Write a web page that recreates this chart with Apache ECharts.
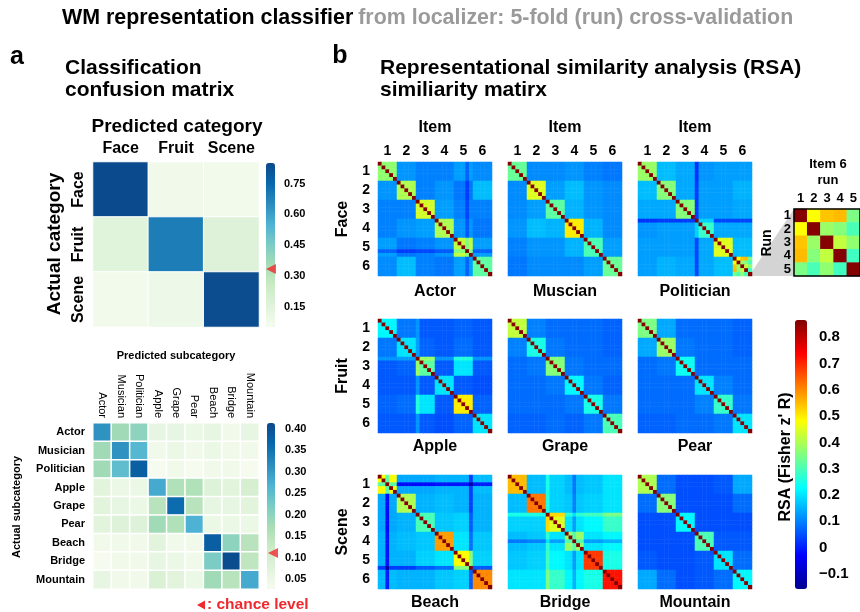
<!DOCTYPE html>
<html>
<head>
<meta charset="utf-8">
<script src="https://cdn.jsdelivr.net/npm/echarts@6/dist/echarts.min.js"></script>
<style>
  html, body { margin: 0; padding: 0; background: #fff; }
  #chart { width: 860px; height: 612px; }
</style>
</head>
<body>
<div id="chart"></div>
<script>
// ---- panel a: classification confusion matrices ----
const categories = ['Face', 'Fruit', 'Scene'];
const subcategories = ['Actor', 'Musician', 'Politician', 'Apple', 'Grape', 'Pear', 'Beach', 'Bridge', 'Mountain'];

// rows = actual, columns = predicted
const categoryConfusion = [
  [0.85, 0.08, 0.07],
  [0.15, 0.69, 0.16],
  [0.07, 0.09, 0.84]
];
const subcategoryConfusion = [
  [0.31, 0.18, 0.20, 0.06, 0.06, 0.05, 0.06, 0.04, 0.06],
  [0.18, 0.31, 0.26, 0.04, 0.05, 0.04, 0.05, 0.04, 0.04],
  [0.18, 0.25, 0.38, 0.03, 0.04, 0.03, 0.04, 0.04, 0.03],
  [0.07, 0.05, 0.05, 0.28, 0.16, 0.16, 0.08, 0.07, 0.10],
  [0.07, 0.06, 0.05, 0.15, 0.36, 0.15, 0.06, 0.06, 0.07],
  [0.07, 0.08, 0.08, 0.18, 0.16, 0.27, 0.05, 0.05, 0.05],
  [0.04, 0.04, 0.04, 0.07, 0.04, 0.04, 0.38, 0.20, 0.15],
  [0.03, 0.04, 0.04, 0.06, 0.05, 0.04, 0.22, 0.41, 0.14],
  [0.06, 0.04, 0.04, 0.09, 0.07, 0.05, 0.18, 0.15, 0.28]
];
const chanceCategory = 1 / 3;
const chanceSubcategory = 1 / 9;
const categoryTicks = [0.15, 0.30, 0.45, 0.60, 0.75];
const subcategoryTicks = [0.05, 0.10, 0.15, 0.20, 0.25, 0.30, 0.35, 0.40];

// ---- panel b: RSA similarity matrices (6 items x 5 runs) ----
const items = ['1', '2', '3', '4', '5', '6'];
const runs = ['1', '2', '3', '4', '5'];
const panelNames = ['Actor', 'Muscian', 'Politician', 'Apple', 'Grape', 'Pear', 'Beach', 'Bridge', 'Mountain'];
const rsaTicks = [-0.1, 0, 0.1, 0.2, 0.3, 0.4, 0.5, 0.6, 0.7, 0.8];
const rsaDiagonal = 0.86;   // same item, same run

// item-by-item mean similarity (Fisher z) read per block
const actorBlocks = [
  [0.37, 0.12, 0.10, 0.10, 0.13, 0.11],
  [0.12, 0.40, 0.10, 0.12, 0.09, 0.16],
  [0.10, 0.10, 0.44, 0.13, 0.10, 0.10],
  [0.10, 0.12, 0.13, 0.40, 0.12, 0.09],
  [0.13, 0.09, 0.10, 0.12, 0.42, 0.13],
  [0.11, 0.16, 0.10, 0.09, 0.13, 0.32]
];
const muscianBlocks = [
  [0.33, 0.11, 0.11, 0.12, 0.10, 0.09],
  [0.11, 0.45, 0.13, 0.16, 0.12, 0.11],
  [0.11, 0.13, 0.32, 0.15, 0.12, 0.11],
  [0.12, 0.16, 0.15, 0.50, 0.15, 0.11],
  [0.10, 0.12, 0.12, 0.15, 0.30, 0.13],
  [0.09, 0.11, 0.11, 0.11, 0.13, 0.33]
];
const politicianBlocks = [
  [0.38, 0.16, 0.14, 0.12, 0.13, 0.13],
  [0.16, 0.36, 0.14, 0.13, 0.13, 0.15],
  [0.14, 0.14, 0.36, 0.13, 0.13, 0.14],
  [0.12, 0.13, 0.13, 0.28, 0.14, 0.14],
  [0.13, 0.13, 0.13, 0.14, 0.45, 0.16],
  [0.13, 0.15, 0.14, 0.14, 0.16, 0.42]
];
const appleBlocks = [
  [0.22, 0.09, 0.06, 0.06, 0.07, 0.06],
  [0.09, 0.20, 0.07, 0.06, 0.08, 0.06],
  [0.06, 0.07, 0.32, 0.06, 0.20, 0.06],
  [0.06, 0.06, 0.06, 0.20, 0.06, 0.05],
  [0.07, 0.08, 0.20, 0.06, 0.50, 0.07],
  [0.06, 0.06, 0.06, 0.05, 0.07, 0.20]
];
const grapeBlocks = [
  [0.42, 0.10, 0.08, 0.08, 0.08, 0.07],
  [0.10, 0.25, 0.09, 0.08, 0.08, 0.07],
  [0.08, 0.09, 0.36, 0.09, 0.08, 0.08],
  [0.08, 0.08, 0.09, 0.22, 0.09, 0.07],
  [0.08, 0.08, 0.08, 0.09, 0.25, 0.09],
  [0.07, 0.07, 0.08, 0.07, 0.09, 0.30]
];
const pearBlocks = [
  [0.35, 0.14, 0.08, 0.08, 0.08, 0.07],
  [0.14, 0.38, 0.09, 0.08, 0.08, 0.07],
  [0.08, 0.09, 0.24, 0.08, 0.08, 0.08],
  [0.08, 0.08, 0.08, 0.20, 0.10, 0.08],
  [0.08, 0.08, 0.08, 0.10, 0.28, 0.09],
  [0.07, 0.07, 0.08, 0.08, 0.09, 0.20]
];
const beachBlocks = [
  [0.48, 0.14, 0.14, 0.15, 0.15, 0.16],
  [0.14, 0.40, 0.15, 0.16, 0.15, 0.15],
  [0.14, 0.15, 0.30, 0.17, 0.18, 0.15],
  [0.15, 0.16, 0.17, 0.58, 0.20, 0.17],
  [0.15, 0.15, 0.18, 0.20, 0.48, 0.18],
  [0.16, 0.15, 0.15, 0.17, 0.18, 0.60]
];
const bridgeBlocks = [
  [0.55, 0.16, 0.18, 0.16, 0.17, 0.20],
  [0.16, 0.62, 0.18, 0.17, 0.18, 0.20],
  [0.18, 0.18, 0.45, 0.20, 0.22, 0.28],
  [0.16, 0.17, 0.20, 0.38, 0.20, 0.22],
  [0.17, 0.18, 0.22, 0.20, 0.68, 0.25],
  [0.20, 0.20, 0.28, 0.22, 0.25, 0.72]
];
const mountainBlocks = [
  [0.40, 0.08, 0.05, 0.05, 0.06, 0.14],
  [0.08, 0.36, 0.05, 0.05, 0.05, 0.08],
  [0.05, 0.05, 0.22, 0.05, 0.05, 0.05],
  [0.05, 0.05, 0.05, 0.30, 0.06, 0.06],
  [0.06, 0.05, 0.05, 0.06, 0.20, 0.08],
  [0.14, 0.08, 0.05, 0.06, 0.08, 0.22]
];

// single runs that stand out as a row+column stripe: [run index 0..29, offset]
const actorRunShift = [[23, -0.06]];
const politicianRunShift = [[15, -0.10]];
const appleRunShift = [[10, 0.06]];
const beachRunShift = [[2, -0.16], [24, -0.12]];
const bridgeRunShift = [[10, 0.07], [17, -0.07]];

// Politician, item 6: run x run (also fills that block of the Politician matrix)
const item6RunSim = [
  [0.86, 0.48, 0.54, 0.55, 0.35],
  [0.48, 0.86, 0.38, 0.36, 0.30],
  [0.54, 0.38, 0.86, 0.42, 0.37],
  [0.55, 0.36, 0.42, 0.86, 0.29],
  [0.35, 0.30, 0.37, 0.29, 0.86]
];

const F = '"Liberation Sans", Arial, sans-serif';
const gnbu = ['#f7fcf0', '#e0f3db', '#ccebc5', '#a8ddb5', '#7bccc4', '#4eb3d3', '#2b8cbe', '#0868ac', '#0b4a8c'];
const jet = ['#00008f', '#0000ff', '#0080ff', '#00ffff', '#80ff80', '#ffff00', '#ff8000', '#ff0000', '#800000'];

const rsaPanels = [
  { blocks: actorBlocks, shift: actorRunShift },
  { blocks: muscianBlocks, shift: [] },
  { blocks: politicianBlocks, shift: politicianRunShift, item6: item6RunSim },
  { blocks: appleBlocks, shift: appleRunShift },
  { blocks: grapeBlocks, shift: [] },
  { blocks: pearBlocks, shift: [] },
  { blocks: beachBlocks, shift: beachRunShift },
  { blocks: bridgeBlocks, shift: bridgeRunShift },
  { blocks: mountainBlocks, shift: [] }
];

const cellKeys = [];
items.forEach(it => runs.forEach(r => cellKeys.push(it + '-' + r)));

function matrixCells(m) {
  const out = [];
  m.forEach((row, y) => row.forEach((v, x) => out.push([x, y, v])));
  return out;
}

function rsaCells(p) {
  const shift = {};
  p.shift.forEach(s => { shift[s[0]] = s[1]; });
  const n = cellKeys.length, k = runs.length, out = [];
  for (let r = 0; r < n; r++) {
    for (let c = 0; c < n; c++) {
      const bi = Math.floor(r / k), bj = Math.floor(c / k);
      let v;
      if (r === c) v = rsaDiagonal;
      else if (p.item6 && bi === 5 && bj === 5) v = p.item6[r % k][c % k];
      else v = p.blocks[bi][bj] + (shift[r] || 0) + (shift[c] || 0);
      out.push([c, r, v]);
    }
  }
  return out;
}

const grids = [], xAxes = [], yAxes = [], series = [];
function addGrid(g) {
  grids.push(Object.assign({ outerBoundsMode: 'none', containLabel: false }, g));
  return grids.length - 1;
}
function catAxis(gridIndex, data, extra) {
  return Object.assign({
    gridIndex, type: 'category', data,
    axisLine: { show: false }, axisTick: { show: false }, splitLine: { show: false },
    axisLabel: { show: false }
  }, extra);
}
function tickAxes(gridIndex, min, max, ticks, fmt, size, margin, tickLen) {
  xAxes.push({ gridIndex, type: 'value', min: 0, max: 1, show: false });
  yAxes.push({
    gridIndex, type: 'value', min, max, position: 'right',
    axisLine: { show: false }, splitLine: { show: false },
    axisTick: { show: true, length: tickLen, lineStyle: { color: '#000', width: 1.5 }, customValues: ticks },
    axisLabel: { show: true, customValues: ticks, formatter: fmt, color: '#000', fontWeight: 'bold', fontSize: size, fontFamily: F, margin }
  });
}
const boldLabel = (size, extra) => Object.assign({ show: true, color: '#000', fontWeight: 'bold', fontSize: size, fontFamily: F }, extra);

// a, top matrix
let g = addGrid({ left: 93, top: 162, width: 166, height: 165 });
xAxes.push(catAxis(g, categories, { position: 'top', axisLabel: boldLabel(16, { margin: 5, interval: 0 }) }));
yAxes.push(catAxis(g, categories, { inverse: true, axisLabel: boldLabel(16, { rotate: 90, margin: 6, interval: 0 }) }));
series.push({
  type: 'heatmap', xAxisIndex: xAxes.length - 1, yAxisIndex: yAxes.length - 1,
  data: matrixCells(categoryConfusion), itemStyle: { borderColor: '#fff', borderWidth: 1 },
  emphasis: { disabled: true }, silent: true
});

// a, bottom matrix
g = addGrid({ left: 93, top: 423, width: 166, height: 166 });
xAxes.push(catAxis(g, subcategories, {
  position: 'top',
  axisLabel: { show: true, rotate: 90, color: '#000', fontSize: 11, fontFamily: F, margin: 5, interval: 0 }
}));
yAxes.push(catAxis(g, subcategories, { inverse: true, axisLabel: boldLabel(11, { margin: 8, interval: 0 }) }));
series.push({
  type: 'heatmap', xAxisIndex: xAxes.length - 1, yAxisIndex: yAxes.length - 1,
  data: matrixCells(subcategoryConfusion), itemStyle: { borderColor: '#fff', borderWidth: 1.5 },
  emphasis: { disabled: true }, silent: true
});

// b, 3x3 RSA matrices
const colLeft = [378, 508, 638], rowTop = [162, 319, 475], size = 114;
rsaPanels.forEach((p, k) => {
  const row = Math.floor(k / 3), col = k % 3;
  const gi = addGrid({ left: colLeft[col], top: rowTop[row], width: size, height: size });
  xAxes.push(catAxis(gi, cellKeys, {
    position: 'top',
    axisLabel: boldLabel(14, { show: row === 0, margin: 4, interval: i => i % 5 === 2, formatter: v => v.split('-')[0] })
  }));
  yAxes.push(catAxis(gi, cellKeys, {
    inverse: true,
    axisLabel: boldLabel(14, { show: col === 0, margin: 8, interval: i => i % 5 === 2, formatter: v => v.split('-')[0] })
  }));
  series.push({
    type: 'heatmap', xAxisIndex: xAxes.length - 1, yAxisIndex: yAxes.length - 1,
    data: rsaCells(p), itemStyle: { borderWidth: 0 }, emphasis: { disabled: true }, silent: true
  });
});

// b, inset: item 6 run x run
g = addGrid({ left: 794, top: 209, width: 66, height: 67 });
xAxes.push(catAxis(g, runs, { position: 'top', axisLabel: boldLabel(13, { margin: 4, interval: 0 }) }));
yAxes.push(catAxis(g, runs, { inverse: true, axisLabel: boldLabel(13, { margin: 3, interval: 0 }) }));
series.push({
  type: 'heatmap', xAxisIndex: xAxes.length - 1, yAxisIndex: yAxes.length - 1,
  data: matrixCells(item6RunSim), itemStyle: { borderWidth: 0 }, emphasis: { disabled: true }, silent: true
});
const rsaSeries = series.map((s, i) => i).slice(2);

// colour bar tick axes and chance markers
const fmt2 = v => v.toFixed(2);
const fmtRsa = v => (Math.abs(v) < 1e-9 ? '0' : (v < 0 ? '\u2212' : '') + Math.abs(v).toFixed(1));

g = addGrid({ left: 266, top: 163, width: 9, height: 164 });
tickAxes(g, 0.05, 0.85, categoryTicks, fmt2, 11, 9, 3);
series.push({
  type: 'scatter', xAxisIndex: xAxes.length - 1, yAxisIndex: yAxes.length - 1,
  data: [[0.55, chanceCategory]], symbol: 'triangle', symbolRotate: 90, symbolSize: 10,
  itemStyle: { color: '#f0282d' }, z: 10, silent: true
});
g = addGrid({ left: 267, top: 423, width: 8, height: 166 });
tickAxes(g, 0.027, 0.414, subcategoryTicks, fmt2, 11, 10, 3);
series.push({
  type: 'scatter', xAxisIndex: xAxes.length - 1, yAxisIndex: yAxes.length - 1,
  data: [[0.75, chanceSubcategory]], symbol: 'triangle', symbolRotate: 90, symbolSize: 10,
  itemStyle: { color: '#f0282d' }, z: 10, silent: true
});
g = addGrid({ left: 795, top: 320, width: 12, height: 269 });
tickAxes(g, -0.157, 0.865, rsaTicks, fmtRsa, 15, 12, 4);

function text(str, x, y, size, extra) {
  const align = (extra && extra.align) || 'center';
  return {
    type: 'text', x, y, rotation: (extra && extra.rotation) || 0, z: 20,
    style: {
      text: str, fontSize: size, fontWeight: 'bold', fontFamily: F,
      fill: (extra && extra.fill) || '#000',
      align, textAlign: align, verticalAlign: 'middle', textVerticalAlign: 'middle'
    }
  };
}
const up = { rotation: Math.PI / 2 };
const graphics = [
  text('a', 17, 57, 25),
  text('b', 340, 56, 25),
  text('Classification', 65, 68, 21, { align: 'left' }),
  text('confusion matrix', 65, 90, 21, { align: 'left' }),
  text('Representational similarity analysis (RSA)', 380, 68, 21, { align: 'left' }),
  text('similiarity matirx', 380, 90, 21, { align: 'left' }),
  text('Predicted category', 177, 127, 19),
  text('Actual category', 55, 244, 19, up),
  text('Predicted subcategory', 176, 356, 11),
  text('Actual subcategory', 17, 507, 11, up),
  text(': chance level', 207, 605, 15.5, { align: 'left', fill: '#ee2a2e' }),
  {
    type: 'polygon', z: 20,
    shape: { points: [[197, 605], [205, 600.5], [205, 609.5]] },
    style: { fill: '#ee2a2e' }
  },
  text('Face', 343, 219, 16, up),
  text('Fruit', 343, 376, 16, up),
  text('Scene', 343, 532, 16, up),
  text('Item 6', 828, 164, 13),
  text('run', 828, 180, 13),
  text('Run', 767, 243, 14, up),
  text('RSA (Fisher z\' R)', 786, 457, 16, up),
  {
    type: 'polygon', z: 0,
    shape: { points: [[749, 276], [794, 209], [794, 276]] },
    style: { fill: '#d4d4d4' }
  },
  {
    type: 'rect', z: 20,
    shape: { x: 794, y: 209, width: 66, height: 67 },
    style: { fill: null, stroke: '#000', lineWidth: 1.5 }
  }
];
colLeft.forEach(x => graphics.push(text('Item', x + size / 2, 128, 16)));
panelNames.forEach((name, k) => {
  const row = Math.floor(k / 3), col = k % 3;
  graphics.push(text(name, colLeft[col] + size / 2, [292, 447, 603][row], 16));
});

const vmBase = { type: 'continuous', calculable: false, hoverLink: false, padding: 0, orient: 'vertical', text: null };

const chart = echarts.init(document.getElementById('chart'));
chart.setOption({
  animation: false,
  backgroundColor: '#fff',
  title: {
    text: '{a|WM representation classifier} {b|from localizer: 5-fold (run) cross-validation}',
    left: 62, top: 6, padding: 0,
    textStyle: {
      rich: {
        a: { color: '#000', fontSize: 21.4, fontWeight: 'bold', fontFamily: F, lineHeight: 24 },
        b: { color: '#9a9a9a', fontSize: 21.4, fontWeight: 'bold', fontFamily: F, lineHeight: 24 }
      }
    }
  },
  grid: grids,
  xAxis: xAxes,
  yAxis: yAxes,
  visualMap: [
    Object.assign({}, vmBase, { seriesIndex: 0, min: 0.05, max: 0.85, inRange: { color: gnbu }, left: 266, top: 163, itemWidth: 9, itemHeight: 164 }),
    Object.assign({}, vmBase, { seriesIndex: 1, min: 0.027, max: 0.414, inRange: { color: gnbu }, left: 267, top: 423, itemWidth: 8, itemHeight: 166 }),
    Object.assign({}, vmBase, { seriesIndex: rsaSeries, min: -0.157, max: 0.865, inRange: { color: jet }, left: 795, top: 320, itemWidth: 12, itemHeight: 269 })
  ],
  graphic: { elements: graphics },
  series
});
</script>
</body>
</html>
